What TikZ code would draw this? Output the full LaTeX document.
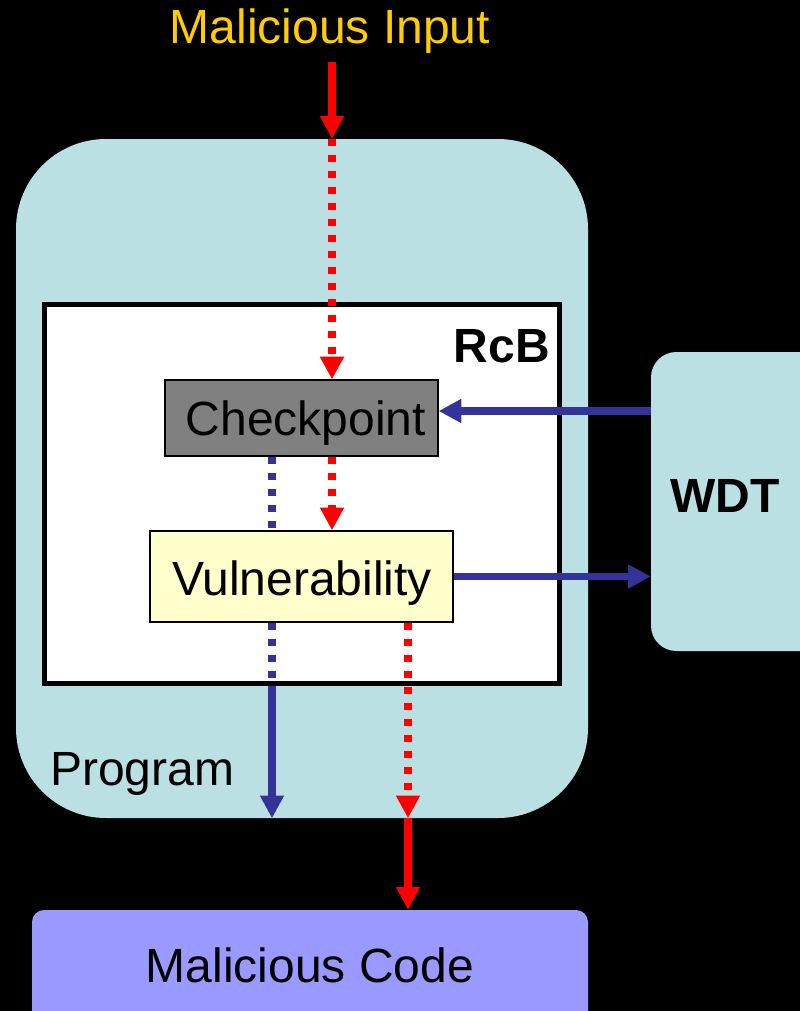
\documentclass[tikz,border=0pt]{standalone}
\usepackage{fontspec}
\setmainfont{Liberation Sans}
\usetikzlibrary{arrows.meta,fit}
\definecolor{progteal}{RGB}{186,224,227}
\definecolor{flowred}{RGB}{255,0,0}
\definecolor{flowblue}{RGB}{51,51,153}
\definecolor{chkgray}{RGB}{128,128,128}
\definecolor{vulyellow}{RGB}{255,255,204}
\definecolor{codepurple}{RGB}{153,153,255}
\definecolor{inorange}{RGB}{255,204,0}
\tikzset{
  box/.style={inner sep=0pt},
  lbl/.style={inner sep=0pt, font=\fontsize{36}{43}\selectfont},
  tip/.style={-{Triangle[width=17pt,length=17pt]}},
  redflow/.style={draw=flowred, line width=6pt},
  blueflow/.style={draw=flowblue, line width=5.5pt},
  dotline/.style={dash pattern=on 5.25pt off 6.75pt},
}
\begin{document}
\begin{tikzpicture}[x=0.75pt,y=-0.75pt]
\useasboundingbox (0,0) rectangle (800,1011);
\clip (0,0) rectangle (800,1011);
\fill[black] (0,0) rectangle (800,1011);

% program area and RcB region
\node[box, fit={(16,139) (588,818)}, fill=progteal, rounded corners=67.5pt] (prog) {};
\node[box, fit={(44.5,304) (559,683)}, fill=white, draw=black, line width=3.75pt] (rcb) {};
\node[lbl, anchor=base east, font=\fontsize{36}{43}\selectfont\bfseries] (rcbtext) at (550,362) {RcB};
\node[lbl, anchor=base west] (progtext) at (50,785) {Program};

% inner blocks
\node[box, fit={(165,380) (438,456)}, fill=chkgray, draw=black, line width=1pt] (chk) {};
\node[lbl, anchor=base] (chktext) at (306,435) {Checkpoint};
\node[box, fit={(150,531) (453,622)}, fill=vulyellow, draw=black, line width=1pt] (vul) {};
\node[lbl, anchor=base] (vultext) at (302,595) {Vulnerability};

% watchdog timer
\node[box, fit={(651,352) (840,651)}, fill=progteal, rounded corners=19pt] (wdt) {};
\node[lbl, anchor=base, font=\fontsize{36}{43}\selectfont\bfseries] (wdttext) at (725,512) {WDT};

% output
\node[box, fit={(32,910) (588,1040)}, fill=codepurple, rounded corners=9pt] (code) {};
\node[lbl, anchor=base] (codetext) at (310,982) {Malicious Code};
\node[lbl, anchor=base, text=inorange] (intext) at (330,43) {Malicious Input};

% attack path (red)
\coordinate (in) at (332,62);
\coordinate (out) at (408,0);
\draw[redflow, tip] (in) -- (prog.north -| in);
\draw[redflow, dotline, tip] (prog.north -| in) -- (chk.north -| in);
\draw[redflow, dotline, tip] (chk.south -| in) -- (vul.north -| in);
\draw[redflow, dotline, tip] (vul.south -| out) -- (prog.south -| out);
\draw[redflow, tip] (prog.south -| out) -- (code.north -| out);

% recovery path (blue)
\coordinate (rec) at (272,0);
\draw[blueflow, dotline] (chk.south -| rec) -- (vul.north -| rec);
\draw[blueflow, dotline] (vul.south -| rec) -- (rcb.south -| rec);
\draw[blueflow, tip] (rcb.south -| rec) -- (prog.south -| rec);

% watchdog links
\coordinate (wk) at (0,411);
\draw[blueflow, tip] (wdt.west |- wk) -- (chk.east |- wk);
\draw[blueflow, tip] (vul.east) -- (vul.east -| wdt.west);
\end{tikzpicture}
\end{document}
